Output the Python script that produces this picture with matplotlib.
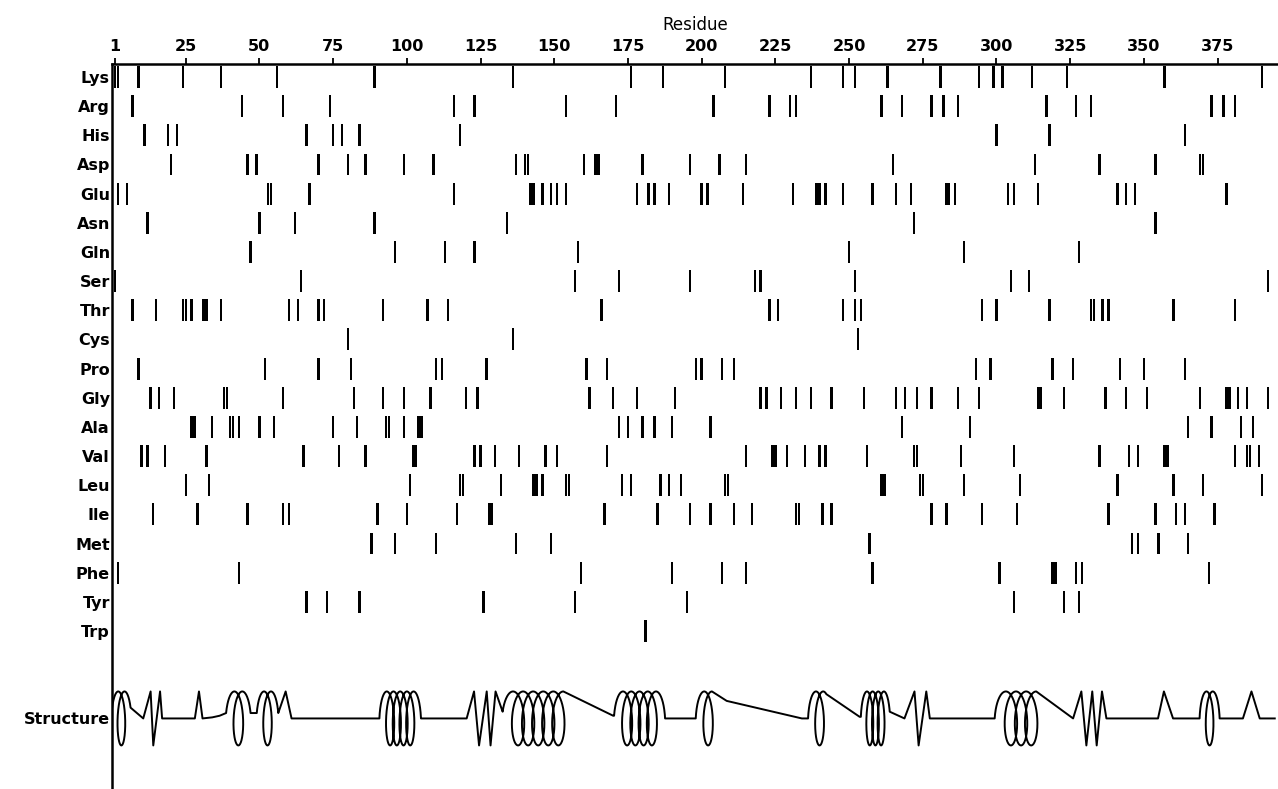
import numpy as np
import matplotlib.pyplot as plt

# residue positions of each amino acid
LYS = [1, 2, 9, 24, 37, 56, 89, 136, 176, 187, 208, 237, 248, 252, 263, 281, 294, 299, 302, 312, 324, 357, 390]
ARG = [7, 44, 58, 74, 116, 123, 154, 171, 204, 223, 230, 232, 261, 268, 278, 282, 287, 317, 327, 332, 373, 377, 381]
HIS = [11, 19, 22, 66, 75, 78, 84, 118, 300, 318, 364]
ASP = [20, 46, 49, 70, 80, 86, 99, 109, 137, 140, 141, 160, 164, 165, 180, 196, 206, 215, 265, 313, 335, 354, 369, 370]
GLU = [2, 5, 53, 54, 67, 116, 142, 143, 146, 149, 151, 154, 178, 182, 184, 189, 200, 202, 214, 231, 239, 240, 242,
       248, 258, 266, 271, 283, 284, 286, 304, 306, 314, 341, 344, 347, 378]
ASN = [12, 50, 62, 89, 134, 272, 354]
GLN = [47, 96, 113, 123, 158, 250, 289, 328]
SER = [1, 64, 157, 172, 196, 218, 220, 252, 305, 311, 392]
THR = [7, 15, 24, 25, 27, 31, 32, 37, 60, 63, 70, 72, 92, 107, 114, 166, 223, 226, 248, 252, 254, 295, 300, 318,
       332, 333, 336, 338, 360, 381]
CYS = [80, 136, 253]
PRO = [9, 52, 70, 81, 110, 112, 127, 161, 168, 198, 200, 207, 211, 293, 298, 319, 326, 342, 350, 364]
GLY = [13, 16, 21, 38, 39, 58, 82, 92, 99, 108, 120, 124, 162, 170, 178, 191, 220, 222, 227, 232, 237, 244, 255,
       266, 269, 273, 278, 287, 294, 314, 315, 323, 337, 344, 351, 369, 378, 379, 382, 385, 392]
ALA = [27, 28, 34, 40, 41, 43, 50, 55, 75, 83, 93, 94, 99, 104, 105, 172, 175, 180, 184, 190, 203, 268, 291, 365,
       373, 383, 387]
VAL = [10, 12, 18, 32, 65, 77, 86, 102, 103, 123, 125, 130, 138, 147, 151, 168, 215, 224, 225, 229, 235, 240, 242,
       256, 272, 273, 288, 306, 335, 345, 348, 357, 358, 381, 385, 386, 389]
LEU = [25, 33, 101, 118, 119, 132, 143, 144, 146, 154, 155, 173, 176, 186, 189, 193, 208, 209, 261, 262, 274, 275,
       289, 308, 341, 360, 370, 390]
ILE = [14, 29, 46, 58, 60, 90, 100, 117, 128, 129, 167, 185, 196, 203, 211, 217, 232, 233, 241, 244, 278, 283, 295,
       307, 338, 354, 361, 364, 374]
MET = [88, 96, 110, 137, 149, 257, 346, 348, 355, 365]
PHE = [2, 43, 159, 190, 207, 215, 258, 301, 319, 320, 327, 329, 372]
TYR = [66, 73, 84, 126, 157, 195, 306, 323, 328]
TRP = [181]

names = ['Lys', 'Arg', 'His', 'Asp', 'Glu', 'Asn', 'Gln', 'Ser', 'Thr', 'Cys',
         'Pro', 'Gly', 'Ala', 'Val', 'Leu', 'Ile', 'Met', 'Phe', 'Tyr', 'Trp']
rows = [LYS, ARG, HIS, ASP, GLU, ASN, GLN, SER, THR, CYS,
        PRO, GLY, ALA, VAL, LEU, ILE, MET, PHE, TYR, TRP]

# secondary structure: helices (start, end, loops, start height, end height)
HEL_START = [0.0, 38.7, 49.1, 90.7, 132.5, 170.3, 198.0, 236.1, 254.0, 299.4, 368.9]
HEL_END = [6.3, 47.0, 56.4, 104.8, 153.1, 187.6, 203.5, 242.3, 263.8, 313.5, 375.7]
HEL_LOOPS = [1, 1, 1, 4, 5, 4, 1, 1, 3, 3, 1]
HEL_Y0 = [0.35, 0.2, 0.2, 0.0, 0.25, 0.1, 0.0, 0.0, 0.06, 0.0, 0.0]
HEL_Y1 = [0.4, 0.2, 0.2, 0.0, 1.0, 0.0, 1.0, 0.9, 0.25, 1.0, 0.0]

# strands, turns and coil between helices
COIL_R = [10.6, 13.1, 14.0, 16.3, 17.0, 28.1, 29.5, 30.7, 34.0, 36.5,
          58.9, 60.9, 90.3,
          120.3, 122.8, 124.5, 127.1, 128.4, 130.1,
          170.0, 197.3, 208.5, 234.0, 253.6,
          268.8, 272.2, 273.6, 276.2, 277.4, 298.8,
          326.0, 328.8, 330.5, 332.5, 334.0, 335.8, 337.3, 354.8, 356.8, 359.9, 368.6,
          383.6, 386.5, 389.3, 394.4]
COIL_Y = [0, 1, -1, 1, 0, 0, 1, 0, 0.04, 0.1,
          1, 0, 0,
          0, 1, -1, 1, -1, 1,
          0.1, 0, 0.65, 0, 0.06,
          0, 1, -1, 1, 0, 0,
          0, 1, -1, 1, -1, 1, 0, 0, 1, 0, 0,
          0, 1, 0, 0]

STRUCT_ROW = 22
AMP = 0.926


def helix(r0, r1, n, y0, y1, ratio=0.85):
    ts = -np.arccos(y0)
    te = 2 * np.pi * n + np.arccos(y1)
    g = (te - ts) / (2 * np.pi) + ratio * (np.sin(te) - np.sin(ts))
    p = (r1 - r0) / g
    t = np.linspace(ts, te, 150 * (n + 1))
    x = r0 + p * (t - ts) / (2 * np.pi) + ratio * p * (np.sin(t) - np.sin(ts))
    return x, np.cos(t)


plt.rcParams['font.family'] = 'DejaVu Sans'
fig = plt.figure(figsize=(12.78, 7.89), dpi=100)
ax = fig.add_axes([112 / 1278, 0, 1 - 112 / 1278, 725 / 789])

for i, res in enumerate(rows):
    ax.bar(res, 0.75, width=0.8, bottom=i - 0.375, color='black', linewidth=0)

# build the structure trace in order of residue
pieces = [(r, 'p', (r, y)) for r, y in zip(COIL_R, COIL_Y)]
for k in range(len(HEL_START)):
    pieces.append((HEL_START[k], 'h', k))
pieces.sort(key=lambda q: q[0])
xs, ys = [], []
for _, kind, item in pieces:
    if kind == 'p':
        xs.append(item[0])
        ys.append(item[1])
    else:
        hx, hy = helix(HEL_START[item], HEL_END[item], HEL_LOOPS[item], HEL_Y0[item], HEL_Y1[item])
        xs.extend(hx)
        ys.extend(hy)
ax.plot(xs, STRUCT_ROW - AMP * np.array(ys), color='black', lw=1.4, solid_joinstyle='round')

ax.set_xlim(0, 395.5)
ax.set_ylim(24.42, -0.446)

ax.xaxis.set_ticks_position('top')
ax.xaxis.set_label_position('top')
ax.set_xticks([1, 25, 50, 75, 100, 125, 150, 175, 200, 225, 250, 275, 300, 325, 350, 375])
ax.tick_params(axis='x', direction='out', length=4, width=1.3, pad=3, labelsize=11.5)
for lab in ax.get_xticklabels():
    lab.set_fontweight('bold')
ax.set_xlabel('Residue', fontsize=12, labelpad=7)

ax.set_yticks(list(range(len(names))) + [STRUCT_ROW])
ax.set_yticklabels(names + ['Structure'], fontsize=11.5, fontweight='bold')
ax.tick_params(axis='y', length=0, pad=1.5)

for side in ['right', 'bottom']:
    ax.spines[side].set_visible(False)
for side in ['top', 'left']:
    ax.spines[side].set_linewidth(1.8)

fig.savefig('out.png', dpi=100)
